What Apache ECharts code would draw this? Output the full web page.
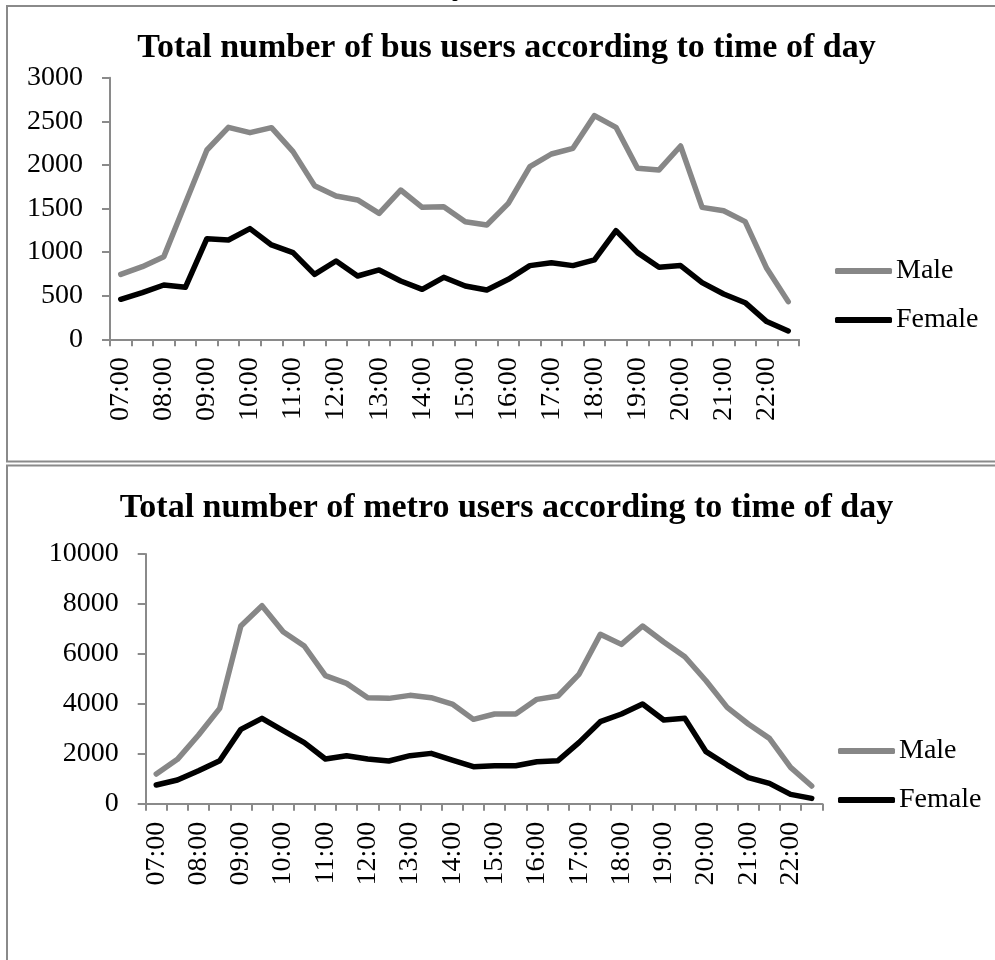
<!DOCTYPE html>
<html>
<head>
<meta charset="utf-8">
<style>
  html, body { margin: 0; padding: 0; background: #ffffff; }
  #chart { width: 995px; height: 960px; }
</style>
<script src="https://cdn.jsdelivr.net/npm/echarts@6/dist/echarts.min.js"></script>
</head>
<body>
<div id="chart"></div>
<script>
// Half-hourly time slots, 07:00 – 22:30
const timeSlots = [
  '07:00','07:30','08:00','08:30','09:00','09:30','10:00','10:30',
  '11:00','11:30','12:00','12:30','13:00','13:30','14:00','14:30',
  '15:00','15:30','16:00','16:30','17:00','17:30','18:00','18:30',
  '19:00','19:30','20:00','20:30','21:00','21:30','22:00','22:30'
];

// Bus users
const busMale = [
  745, 833, 948, 1560, 2171, 2431, 2370, 2427,
  2152, 1762, 1643, 1598, 1445, 1712, 1513, 1521,
  1349, 1311, 1559, 1980, 2125, 2190, 2565, 2431,
  1961, 1942, 2217, 1513, 1475, 1349, 814, 432
];
const busFemale = [
  459, 535, 623, 596, 1154, 1139, 1269, 1082,
  994, 745, 898, 726, 795, 669, 573, 711,
  612, 566, 688, 845, 879, 845, 910, 1246,
  994, 826, 845, 650, 520, 420, 203, 96
];

// Metro users
const metroMale = [
  1188, 1776, 2750, 3818, 7116, 7930, 6889, 6315,
  5126, 4819, 4245, 4219, 4339, 4245, 3992, 3378,
  3591, 3591, 4179, 4312, 5193, 6782, 6381, 7116,
  6475, 5887, 4926, 3858, 3191, 2617, 1455, 708
];
const metroFemale = [
  748, 948, 1322, 1722, 2977, 3418, 2924, 2443,
  1789, 1922, 1789, 1709, 1922, 2016, 1749, 1482,
  1522, 1522, 1682, 1722, 2456, 3284, 3591, 3992,
  3351, 3418, 2083, 1549, 1041, 814, 374, 214
];

const busTitle = 'Total number of bus users according to time of day';
const metroTitle = 'Total number of metro users according to time of day';
const seriesNames = ['Male', 'Female'];

const FONT = '"Liberation Serif", "Times New Roman", serif';
const LABEL_SIZE = 28;
const AXIS_GRAY = '#8a8a8a';
const MALE_COLOR = '#878787';
const FEMALE_COLOR = '#000000';

function xAxisFor(gridIndex) {
  return {
    type: 'category',
    gridIndex: gridIndex,
    data: timeSlots,
    boundaryGap: true,
    axisLine: { show: true, lineStyle: { color: AXIS_GRAY, width: 2 } },
    axisTick: { show: true, interval: 0, alignWithLabel: false, length: 7,
                lineStyle: { color: AXIS_GRAY, width: 2 } },
    axisLabel: { interval: 1, rotate: 90, margin: 18, color: '#000',
                 fontFamily: FONT, fontSize: LABEL_SIZE },
    splitLine: { show: false }
  };
}

function yAxisFor(gridIndex, max, interval) {
  return {
    type: 'value',
    gridIndex: gridIndex,
    min: 0,
    max: max,
    interval: interval,
    axisLine: { show: true, lineStyle: { color: AXIS_GRAY, width: 2 } },
    axisTick: { show: true, length: 8, lineStyle: { color: AXIS_GRAY, width: 2 } },
    axisLabel: { margin: 27, color: '#000', fontFamily: FONT, fontSize: LABEL_SIZE,
                 formatter: function (v) { return String(v); } },
    splitLine: { show: false }
  };
}

function lineSeries(name, data, color, axisIndex) {
  return {
    name: name,
    type: 'line',
    xAxisIndex: axisIndex,
    yAxisIndex: axisIndex,
    data: data,
    symbol: 'none',
    showSymbol: false,
    animation: false,
    lineStyle: { color: color, width: 5.5, cap: 'round', join: 'round' },
    itemStyle: { color: color }
  };
}

function legendAt(left, top) {
  return {
    orient: 'vertical',
    left: left,
    top: top,
    padding: 0,
    icon: 'roundRect',
    itemWidth: 57,
    itemHeight: 6,
    itemGap: 21,
    selectedMode: false,
    data: seriesNames,
    textStyle: { fontFamily: FONT, fontSize: LABEL_SIZE, color: '#000', lineHeight: 26,
                 padding: [0, 0, 0, -1] }
  };
}

function titleText(text, cx, cy) {
  return {
    type: 'text',
    x: cx,
    y: cy,
    style: {
      text: text,
      font: 'bold 34px ' + FONT,
      fill: '#000',
      align: 'center',
      verticalAlign: 'middle'
    }
  };
}

const chart = echarts.init(document.getElementById('chart'), null, { renderer: 'canvas' });

chart.setOption({
  backgroundColor: '#ffffff',
  animation: false,
  grid: [
    { left: 110, top: 77.7, width: 689, height: 261.6, containLabel: false },
    { left: 145.7, top: 554, width: 676.6, height: 249.7, containLabel: false }
  ],
  xAxis: [xAxisFor(0), xAxisFor(1)],
  yAxis: [yAxisFor(0, 3000, 500), yAxisFor(1, 10000, 2000)],
  legend: [legendAt(835, 257), legendAt(838, 737)],
  series: [
    lineSeries('Male', busMale, MALE_COLOR, 0),
    lineSeries('Female', busFemale, FEMALE_COLOR, 0),
    lineSeries('Male', metroMale, MALE_COLOR, 1),
    lineSeries('Female', metroFemale, FEMALE_COLOR, 1)
  ],
  graphic: [
    // frame around the bus chart
    { type: 'polyline', shape: { points: [[995, 6], [7, 6], [7, 461.5], [995, 461.5]] },
      style: { stroke: AXIS_GRAY, lineWidth: 2, fill: null } },
    // frame around the metro chart
    { type: 'polyline', shape: { points: [[995, 465.5], [7, 465.5], [7, 960]] },
      style: { stroke: AXIS_GRAY, lineWidth: 2, fill: null } },
    // tail of the caption line above the frame
    { type: 'text', x: 460, y: -15,
      style: { text: 'y', font: 'bold 33px ' + FONT, fill: '#000',
               align: 'center', verticalAlign: 'middle' } },
    titleText(busTitle, 506.5, 48),
    titleText(metroTitle, 506.5, 508)
  ]
});
</script>
</body>
</html>
